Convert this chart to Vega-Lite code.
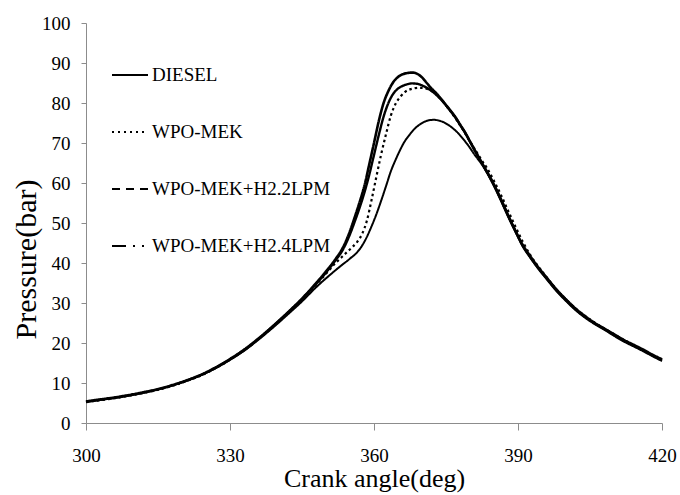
{
  "$schema": "https://vega.github.io/schema/vega-lite/v6.json",
  "width": 576,
  "height": 400,
  "autosize": "none",
  "padding": {"left": 86, "top": 23, "right": 18, "bottom": 72},
  "background": "white",
  "config": {
    "view": {"stroke": null},
    "font": "Liberation Serif"
  },
  "data": {"values": [
    {"s": "DIESEL", "a": 300, "p": 5.3}, {"s": "DIESEL", "a": 303, "p": 5.8}, {"s": "DIESEL", "a": 306, "p": 6.3}, {"s": "DIESEL", "a": 309, "p": 6.9},
    {"s": "DIESEL", "a": 312, "p": 7.6}, {"s": "DIESEL", "a": 315, "p": 8.4}, {"s": "DIESEL", "a": 318, "p": 9.4}, {"s": "DIESEL", "a": 321, "p": 10.6},
    {"s": "DIESEL", "a": 324, "p": 12.0}, {"s": "DIESEL", "a": 327, "p": 13.7}, {"s": "DIESEL", "a": 330, "p": 15.8}, {"s": "DIESEL", "a": 333, "p": 18.1},
    {"s": "DIESEL", "a": 336, "p": 20.9}, {"s": "DIESEL", "a": 339, "p": 23.9}, {"s": "DIESEL", "a": 342, "p": 27.1},
    {"s": "DIESEL", "a": 345, "p": 30.4}, {"s": "DIESEL", "a": 348, "p": 34.0}, {"s": "DIESEL", "a": 351, "p": 37.2},
    {"s": "DIESEL", "a": 353, "p": 39.2}, {"s": "DIESEL", "a": 355, "p": 41.1}, {"s": "DIESEL", "a": 356.5, "p": 42.7},
    {"s": "DIESEL", "a": 357.5, "p": 44.3}, {"s": "DIESEL", "a": 358.5, "p": 46.5}, {"s": "DIESEL", "a": 359.5, "p": 49.2},
    {"s": "DIESEL", "a": 360.5, "p": 52.2}, {"s": "DIESEL", "a": 361.5, "p": 55.6}, {"s": "DIESEL", "a": 362.5, "p": 59.2},
    {"s": "DIESEL", "a": 363.5, "p": 62.9}, {"s": "DIESEL", "a": 364.5, "p": 65.8}, {"s": "DIESEL", "a": 365.5, "p": 68.4},
    {"s": "DIESEL", "a": 366.5, "p": 70.6}, {"s": "DIESEL", "a": 367.5, "p": 72.2}, {"s": "DIESEL", "a": 368.5, "p": 73.6},
    {"s": "DIESEL", "a": 369.5, "p": 74.6}, {"s": "DIESEL", "a": 370.5, "p": 75.3}, {"s": "DIESEL", "a": 371.5, "p": 75.7},
    {"s": "DIESEL", "a": 372.5, "p": 75.8}, {"s": "DIESEL", "a": 373.5, "p": 75.6}, {"s": "DIESEL", "a": 374.5, "p": 75.2},
    {"s": "DIESEL", "a": 375.5, "p": 74.5}, {"s": "DIESEL", "a": 376.5, "p": 73.6}, {"s": "DIESEL", "a": 377.5, "p": 72.5},
    {"s": "DIESEL", "a": 378.5, "p": 71.1}, {"s": "DIESEL", "a": 379.5, "p": 69.6}, {"s": "DIESEL", "a": 381, "p": 67.0},
    {"s": "DIESEL", "a": 382.5, "p": 64.6}, {"s": "DIESEL", "a": 385, "p": 59.2}, {"s": "DIESEL", "a": 386.5, "p": 55.4},
    {"s": "DIESEL", "a": 388, "p": 51.4}, {"s": "DIESEL", "a": 389.5, "p": 47.7}, {"s": "DIESEL", "a": 391, "p": 44.1},
    {"s": "DIESEL", "a": 392.5, "p": 41.4}, {"s": "DIESEL", "a": 394, "p": 38.9}, {"s": "DIESEL", "a": 396, "p": 35.9},
    {"s": "DIESEL", "a": 398, "p": 33.0}, {"s": "DIESEL", "a": 400, "p": 30.5}, {"s": "DIESEL", "a": 402, "p": 28.2},
    {"s": "DIESEL", "a": 404, "p": 26.3}, {"s": "DIESEL", "a": 406, "p": 24.7}, {"s": "DIESEL", "a": 408, "p": 23.3},
    {"s": "DIESEL", "a": 410, "p": 21.8}, {"s": "DIESEL", "a": 412, "p": 20.4}, {"s": "DIESEL", "a": 414, "p": 19.2},
    {"s": "DIESEL", "a": 416, "p": 18.0}, {"s": "DIESEL", "a": 418, "p": 16.7}, {"s": "DIESEL", "a": 420, "p": 15.5},

    {"s": "WPO-MEK", "a": 300, "p": 5.2}, {"s": "WPO-MEK", "a": 303, "p": 5.7}, {"s": "WPO-MEK", "a": 306, "p": 6.2}, {"s": "WPO-MEK", "a": 309, "p": 6.8},
    {"s": "WPO-MEK", "a": 312, "p": 7.5}, {"s": "WPO-MEK", "a": 315, "p": 8.3}, {"s": "WPO-MEK", "a": 318, "p": 9.3}, {"s": "WPO-MEK", "a": 321, "p": 10.5},
    {"s": "WPO-MEK", "a": 324, "p": 11.9}, {"s": "WPO-MEK", "a": 327, "p": 13.7}, {"s": "WPO-MEK", "a": 330, "p": 15.8}, {"s": "WPO-MEK", "a": 333, "p": 18.2},
    {"s": "WPO-MEK", "a": 336, "p": 21.0}, {"s": "WPO-MEK", "a": 339, "p": 24.1}, {"s": "WPO-MEK", "a": 342, "p": 27.4},
    {"s": "WPO-MEK", "a": 345, "p": 30.8}, {"s": "WPO-MEK", "a": 347.5, "p": 34.0}, {"s": "WPO-MEK", "a": 350, "p": 37.3},
    {"s": "WPO-MEK", "a": 352, "p": 40.0}, {"s": "WPO-MEK", "a": 354, "p": 42.3}, {"s": "WPO-MEK", "a": 355.5, "p": 44.0},
    {"s": "WPO-MEK", "a": 356.5, "p": 45.3}, {"s": "WPO-MEK", "a": 357.5, "p": 47.2}, {"s": "WPO-MEK", "a": 358.5, "p": 50.5},
    {"s": "WPO-MEK", "a": 359.5, "p": 55.8}, {"s": "WPO-MEK", "a": 360.5, "p": 61.6}, {"s": "WPO-MEK", "a": 361.5, "p": 67.2},
    {"s": "WPO-MEK", "a": 362.5, "p": 72.2}, {"s": "WPO-MEK", "a": 363.5, "p": 76.8}, {"s": "WPO-MEK", "a": 364.5, "p": 79.8},
    {"s": "WPO-MEK", "a": 365.5, "p": 81.6}, {"s": "WPO-MEK", "a": 366.5, "p": 82.8}, {"s": "WPO-MEK", "a": 367.5, "p": 83.4},
    {"s": "WPO-MEK", "a": 368.5, "p": 83.7}, {"s": "WPO-MEK", "a": 369.5, "p": 83.8}, {"s": "WPO-MEK", "a": 370.5, "p": 83.7},
    {"s": "WPO-MEK", "a": 371.5, "p": 83.3}, {"s": "WPO-MEK", "a": 372.5, "p": 82.7}, {"s": "WPO-MEK", "a": 373.5, "p": 81.6},
    {"s": "WPO-MEK", "a": 374.5, "p": 80.2}, {"s": "WPO-MEK", "a": 375.5, "p": 78.6}, {"s": "WPO-MEK", "a": 376.5, "p": 77.0},
    {"s": "WPO-MEK", "a": 377.5, "p": 75.2}, {"s": "WPO-MEK", "a": 378.5, "p": 73.4}, {"s": "WPO-MEK", "a": 379.5, "p": 71.4},
    {"s": "WPO-MEK", "a": 380.5, "p": 69.4}, {"s": "WPO-MEK", "a": 381.5, "p": 67.5}, {"s": "WPO-MEK", "a": 382.5, "p": 65.6},
    {"s": "WPO-MEK", "a": 383.5, "p": 63.8}, {"s": "WPO-MEK", "a": 385, "p": 60.5}, {"s": "WPO-MEK", "a": 386.5, "p": 56.9},
    {"s": "WPO-MEK", "a": 388, "p": 52.9}, {"s": "WPO-MEK", "a": 389.5, "p": 49.0}, {"s": "WPO-MEK", "a": 391, "p": 45.3},
    {"s": "WPO-MEK", "a": 392.5, "p": 42.1}, {"s": "WPO-MEK", "a": 394, "p": 39.5}, {"s": "WPO-MEK", "a": 396, "p": 36.4},
    {"s": "WPO-MEK", "a": 398, "p": 33.4}, {"s": "WPO-MEK", "a": 400, "p": 30.9}, {"s": "WPO-MEK", "a": 402, "p": 28.6},
    {"s": "WPO-MEK", "a": 404, "p": 26.7}, {"s": "WPO-MEK", "a": 406, "p": 25.1}, {"s": "WPO-MEK", "a": 408, "p": 23.6},
    {"s": "WPO-MEK", "a": 410, "p": 22.2}, {"s": "WPO-MEK", "a": 412, "p": 20.8}, {"s": "WPO-MEK", "a": 414, "p": 19.5},
    {"s": "WPO-MEK", "a": 416, "p": 18.3}, {"s": "WPO-MEK", "a": 418, "p": 17.0}, {"s": "WPO-MEK", "a": 420, "p": 15.8},

    {"s": "WPO-MEK+H2.2LPM", "a": 300, "p": 5.3}, {"s": "WPO-MEK+H2.2LPM", "a": 303, "p": 5.8}, {"s": "WPO-MEK+H2.2LPM", "a": 306, "p": 6.3}, {"s": "WPO-MEK+H2.2LPM", "a": 309, "p": 6.9},
    {"s": "WPO-MEK+H2.2LPM", "a": 312, "p": 7.6}, {"s": "WPO-MEK+H2.2LPM", "a": 315, "p": 8.4}, {"s": "WPO-MEK+H2.2LPM", "a": 318, "p": 9.4}, {"s": "WPO-MEK+H2.2LPM", "a": 321, "p": 10.6},
    {"s": "WPO-MEK+H2.2LPM", "a": 324, "p": 12.0}, {"s": "WPO-MEK+H2.2LPM", "a": 327, "p": 13.8}, {"s": "WPO-MEK+H2.2LPM", "a": 330, "p": 15.9}, {"s": "WPO-MEK+H2.2LPM", "a": 333, "p": 18.3},
    {"s": "WPO-MEK+H2.2LPM", "a": 336, "p": 21.1}, {"s": "WPO-MEK+H2.2LPM", "a": 339, "p": 24.2}, {"s": "WPO-MEK+H2.2LPM", "a": 342, "p": 27.5},
    {"s": "WPO-MEK+H2.2LPM", "a": 345, "p": 31.0}, {"s": "WPO-MEK+H2.2LPM", "a": 347.5, "p": 34.2}, {"s": "WPO-MEK+H2.2LPM", "a": 350, "p": 37.6},
    {"s": "WPO-MEK+H2.2LPM", "a": 352, "p": 40.7}, {"s": "WPO-MEK+H2.2LPM", "a": 353.5, "p": 43.3}, {"s": "WPO-MEK+H2.2LPM", "a": 355, "p": 47.2},
    {"s": "WPO-MEK+H2.2LPM", "a": 356, "p": 50.4}, {"s": "WPO-MEK+H2.2LPM", "a": 357, "p": 53.8}, {"s": "WPO-MEK+H2.2LPM", "a": 358, "p": 57.6},
    {"s": "WPO-MEK+H2.2LPM", "a": 359, "p": 62.0}, {"s": "WPO-MEK+H2.2LPM", "a": 360, "p": 67.0}, {"s": "WPO-MEK+H2.2LPM", "a": 361, "p": 72.0},
    {"s": "WPO-MEK+H2.2LPM", "a": 362, "p": 76.6}, {"s": "WPO-MEK+H2.2LPM", "a": 363, "p": 80.0}, {"s": "WPO-MEK+H2.2LPM", "a": 364, "p": 82.3},
    {"s": "WPO-MEK+H2.2LPM", "a": 365, "p": 83.6}, {"s": "WPO-MEK+H2.2LPM", "a": 366, "p": 84.3}, {"s": "WPO-MEK+H2.2LPM", "a": 367, "p": 84.7},
    {"s": "WPO-MEK+H2.2LPM", "a": 368, "p": 84.9}, {"s": "WPO-MEK+H2.2LPM", "a": 369, "p": 84.8}, {"s": "WPO-MEK+H2.2LPM", "a": 370, "p": 84.4},
    {"s": "WPO-MEK+H2.2LPM", "a": 371, "p": 83.8}, {"s": "WPO-MEK+H2.2LPM", "a": 372, "p": 83.0}, {"s": "WPO-MEK+H2.2LPM", "a": 373, "p": 82.0},
    {"s": "WPO-MEK+H2.2LPM", "a": 374, "p": 80.8}, {"s": "WPO-MEK+H2.2LPM", "a": 375, "p": 79.4}, {"s": "WPO-MEK+H2.2LPM", "a": 376, "p": 77.9},
    {"s": "WPO-MEK+H2.2LPM", "a": 377, "p": 76.3}, {"s": "WPO-MEK+H2.2LPM", "a": 378, "p": 74.4}, {"s": "WPO-MEK+H2.2LPM", "a": 379, "p": 72.5},
    {"s": "WPO-MEK+H2.2LPM", "a": 380, "p": 70.3}, {"s": "WPO-MEK+H2.2LPM", "a": 381, "p": 68.1}, {"s": "WPO-MEK+H2.2LPM", "a": 382.5, "p": 64.9},
    {"s": "WPO-MEK+H2.2LPM", "a": 385, "p": 59.5}, {"s": "WPO-MEK+H2.2LPM", "a": 386.5, "p": 55.7}, {"s": "WPO-MEK+H2.2LPM", "a": 388, "p": 51.7},
    {"s": "WPO-MEK+H2.2LPM", "a": 389.5, "p": 47.9}, {"s": "WPO-MEK+H2.2LPM", "a": 391, "p": 44.3}, {"s": "WPO-MEK+H2.2LPM", "a": 392.5, "p": 41.6},
    {"s": "WPO-MEK+H2.2LPM", "a": 394, "p": 39.1}, {"s": "WPO-MEK+H2.2LPM", "a": 396, "p": 36.1}, {"s": "WPO-MEK+H2.2LPM", "a": 398, "p": 33.2},
    {"s": "WPO-MEK+H2.2LPM", "a": 400, "p": 30.7}, {"s": "WPO-MEK+H2.2LPM", "a": 402, "p": 28.4}, {"s": "WPO-MEK+H2.2LPM", "a": 404, "p": 26.5},
    {"s": "WPO-MEK+H2.2LPM", "a": 406, "p": 24.9}, {"s": "WPO-MEK+H2.2LPM", "a": 408, "p": 23.5}, {"s": "WPO-MEK+H2.2LPM", "a": 410, "p": 22.0},
    {"s": "WPO-MEK+H2.2LPM", "a": 412, "p": 20.6}, {"s": "WPO-MEK+H2.2LPM", "a": 414, "p": 19.4}, {"s": "WPO-MEK+H2.2LPM", "a": 416, "p": 18.2},
    {"s": "WPO-MEK+H2.2LPM", "a": 418, "p": 16.9}, {"s": "WPO-MEK+H2.2LPM", "a": 420, "p": 15.7},

    {"s": "WPO-MEK+H2.4LPM", "a": 300, "p": 5.4}, {"s": "WPO-MEK+H2.4LPM", "a": 303, "p": 5.9}, {"s": "WPO-MEK+H2.4LPM", "a": 306, "p": 6.4}, {"s": "WPO-MEK+H2.4LPM", "a": 309, "p": 7.0},
    {"s": "WPO-MEK+H2.4LPM", "a": 312, "p": 7.7}, {"s": "WPO-MEK+H2.4LPM", "a": 315, "p": 8.5}, {"s": "WPO-MEK+H2.4LPM", "a": 318, "p": 9.5}, {"s": "WPO-MEK+H2.4LPM", "a": 321, "p": 10.7},
    {"s": "WPO-MEK+H2.4LPM", "a": 324, "p": 12.1}, {"s": "WPO-MEK+H2.4LPM", "a": 327, "p": 13.9}, {"s": "WPO-MEK+H2.4LPM", "a": 330, "p": 16.0}, {"s": "WPO-MEK+H2.4LPM", "a": 333, "p": 18.4},
    {"s": "WPO-MEK+H2.4LPM", "a": 336, "p": 21.2}, {"s": "WPO-MEK+H2.4LPM", "a": 339, "p": 24.3}, {"s": "WPO-MEK+H2.4LPM", "a": 342, "p": 27.6},
    {"s": "WPO-MEK+H2.4LPM", "a": 345, "p": 31.1}, {"s": "WPO-MEK+H2.4LPM", "a": 347.5, "p": 34.4}, {"s": "WPO-MEK+H2.4LPM", "a": 350, "p": 37.9},
    {"s": "WPO-MEK+H2.4LPM", "a": 352, "p": 41.0}, {"s": "WPO-MEK+H2.4LPM", "a": 353.5, "p": 43.8}, {"s": "WPO-MEK+H2.4LPM", "a": 355, "p": 48.0},
    {"s": "WPO-MEK+H2.4LPM", "a": 356, "p": 51.5}, {"s": "WPO-MEK+H2.4LPM", "a": 357, "p": 55.2}, {"s": "WPO-MEK+H2.4LPM", "a": 358, "p": 59.3},
    {"s": "WPO-MEK+H2.4LPM", "a": 359, "p": 64.6}, {"s": "WPO-MEK+H2.4LPM", "a": 360, "p": 70.0}, {"s": "WPO-MEK+H2.4LPM", "a": 361, "p": 75.5},
    {"s": "WPO-MEK+H2.4LPM", "a": 362, "p": 80.0}, {"s": "WPO-MEK+H2.4LPM", "a": 363, "p": 83.0}, {"s": "WPO-MEK+H2.4LPM", "a": 364, "p": 85.2},
    {"s": "WPO-MEK+H2.4LPM", "a": 365, "p": 86.5}, {"s": "WPO-MEK+H2.4LPM", "a": 366, "p": 87.2}, {"s": "WPO-MEK+H2.4LPM", "a": 367, "p": 87.5},
    {"s": "WPO-MEK+H2.4LPM", "a": 368, "p": 87.6}, {"s": "WPO-MEK+H2.4LPM", "a": 369, "p": 87.3}, {"s": "WPO-MEK+H2.4LPM", "a": 370, "p": 86.4},
    {"s": "WPO-MEK+H2.4LPM", "a": 371, "p": 85.0}, {"s": "WPO-MEK+H2.4LPM", "a": 372, "p": 83.6}, {"s": "WPO-MEK+H2.4LPM", "a": 373, "p": 82.4},
    {"s": "WPO-MEK+H2.4LPM", "a": 374, "p": 81.0}, {"s": "WPO-MEK+H2.4LPM", "a": 375, "p": 79.5}, {"s": "WPO-MEK+H2.4LPM", "a": 376, "p": 78.0},
    {"s": "WPO-MEK+H2.4LPM", "a": 377, "p": 76.4}, {"s": "WPO-MEK+H2.4LPM", "a": 378, "p": 74.5}, {"s": "WPO-MEK+H2.4LPM", "a": 379, "p": 72.6},
    {"s": "WPO-MEK+H2.4LPM", "a": 380, "p": 70.4}, {"s": "WPO-MEK+H2.4LPM", "a": 381, "p": 68.2}, {"s": "WPO-MEK+H2.4LPM", "a": 382.5, "p": 65.0},
    {"s": "WPO-MEK+H2.4LPM", "a": 385, "p": 59.6}, {"s": "WPO-MEK+H2.4LPM", "a": 386.5, "p": 55.8}, {"s": "WPO-MEK+H2.4LPM", "a": 388, "p": 51.8},
    {"s": "WPO-MEK+H2.4LPM", "a": 389.5, "p": 48.0}, {"s": "WPO-MEK+H2.4LPM", "a": 391, "p": 44.5}, {"s": "WPO-MEK+H2.4LPM", "a": 392.5, "p": 41.8},
    {"s": "WPO-MEK+H2.4LPM", "a": 394, "p": 39.3}, {"s": "WPO-MEK+H2.4LPM", "a": 396, "p": 36.3}, {"s": "WPO-MEK+H2.4LPM", "a": 398, "p": 33.4},
    {"s": "WPO-MEK+H2.4LPM", "a": 400, "p": 30.9}, {"s": "WPO-MEK+H2.4LPM", "a": 402, "p": 28.6}, {"s": "WPO-MEK+H2.4LPM", "a": 404, "p": 26.7},
    {"s": "WPO-MEK+H2.4LPM", "a": 406, "p": 25.0}, {"s": "WPO-MEK+H2.4LPM", "a": 408, "p": 23.6}, {"s": "WPO-MEK+H2.4LPM", "a": 410, "p": 22.2},
    {"s": "WPO-MEK+H2.4LPM", "a": 412, "p": 20.8}, {"s": "WPO-MEK+H2.4LPM", "a": 414, "p": 19.6}, {"s": "WPO-MEK+H2.4LPM", "a": 416, "p": 18.4},
    {"s": "WPO-MEK+H2.4LPM", "a": 418, "p": 17.1}, {"s": "WPO-MEK+H2.4LPM", "a": 420, "p": 15.9}
  ]},
  "encoding": {
    "x": {
      "field": "a", "type": "quantitative",
      "scale": {"domain": [300, 420], "nice": false, "zero": false},
      "axis": {
        "values": [300, 330, 360, 390, 420],
        "grid": false,
        "domainColor": "#8c8c8c", "tickColor": "#8c8c8c", "tickSize": 7,
        "labelFont": "Liberation Serif", "labelFontSize": 19, "labelColor": "black", "labelPadding": 16,
        "labelFlush": false,
        "title": "Crank angle(deg)",
        "titleFont": "Liberation Serif", "titleFontSize": 26, "titleFontWeight": "normal", "titleColor": "black",
        "titleX": 288, "titleY": 63, "titleBaseline": "alphabetic", "titleAlign": "center"
      }
    },
    "y": {
      "field": "p", "type": "quantitative",
      "scale": {"domain": [0, 100], "nice": false},
      "axis": {
        "values": [0, 10, 20, 30, 40, 50, 60, 70, 80, 90, 100],
        "grid": false,
        "domainColor": "#8c8c8c", "tickColor": "#8c8c8c", "tickSize": 5,
        "labelFont": "Liberation Serif", "labelFontSize": 19, "labelColor": "black", "labelPadding": 11,
        "labelFlush": false,
        "title": "Pressure(bar)",
        "titleFont": "Liberation Serif", "titleFontSize": 30, "titleFontWeight": "normal", "titleColor": "black",
        "titleAngle": 270, "titleX": -51, "titleY": 236, "titleBaseline": "alphabetic", "titleAlign": "center"
      }
    }
  },
  "layer": [
    {
      "mark": {"type": "line", "interpolate": "monotone", "color": "black"},
      "encoding": {
        "detail": {"field": "s", "type": "nominal"},
        "strokeDash": {
          "field": "s", "type": "nominal",
          "scale": {"domain": ["DIESEL", "WPO-MEK", "WPO-MEK+H2.2LPM", "WPO-MEK+H2.4LPM"], "range": [[1, 0], [2.5, 3], [1, 0], [1, 0]]},
          "legend": null
        },
        "strokeWidth": {
          "field": "s", "type": "nominal",
          "scale": {"domain": ["DIESEL", "WPO-MEK", "WPO-MEK+H2.2LPM", "WPO-MEK+H2.4LPM"], "range": [2.0, 2.6, 1.8, 1.8]},
          "legend": null
        }
      }
    },
    {
      "transform": [{"filter": "datum.a > 1000"}],
      "mark": {"type": "line", "color": "black", "strokeWidth": 2},
      "encoding": {
        "strokeDash": {
          "field": "s", "type": "nominal",
          "scale": {"domain": ["DIESEL", "WPO-MEK", "WPO-MEK+H2.2LPM", "WPO-MEK+H2.4LPM"], "range": [[1, 0], [2, 4], [8, 6], [14, 7, 2, 7, 2, 4]]},
          "legend": {
            "title": null,
            "orient": "none", "legendX": 25, "legendY": 33,
            "padding": 0,
            "symbolType": "stroke", "symbolSize": 1296, "symbolStrokeWidth": 2, "symbolStrokeColor": "black",
            "rowPadding": 28, "labelOffset": 3,
            "labelFont": "Liberation Serif", "labelFontSize": 19, "labelColor": "black", "labelLimit": 400
          }
        }
      }
    }
  ],
  "resolve": {"scale": {"strokeDash": "independent"}, "legend": {"strokeDash": "independent"}}
}
